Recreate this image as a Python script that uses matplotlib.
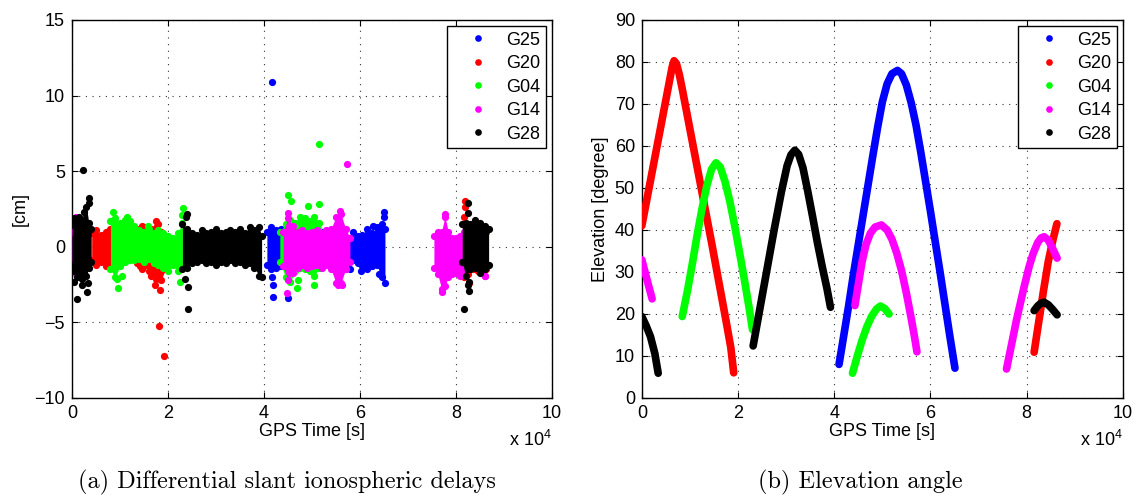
import matplotlib
matplotlib.use("Agg")
import matplotlib.pyplot as plt
from matplotlib.lines import Line2D

plt.rcParams['font.family'] = ['Liberation Sans', 'DejaVu Sans']
plt.rcParams['mathtext.default'] = 'regular'

sats = ["G25", "G20", "G04", "G14", "G28"]
colors = {"G25": "#0000ff", "G20": "#ff0000", "G04": "#00ff00",
          "G14": "#ff00ff", "G28": "#000000"}

# ---- (a) differential slant delays: dense bands (time [s], low/high edge [cm]) ----
g25_t = [40600, 41500, 42500, 43500, 44500, 46000, 48000, 50000, 52000, 54000, 55500,
         56500, 57500, 58500, 59500, 60500, 61500, 62500, 63500, 64500, 65200]
g25_hi = [1.0, 1.3, 1.1, 1.2, 1.0, 1.0, 1.0, 0.9, 1.0, 1.0, 1.1,
          0.9, 0.6, 1.0, 0.7, 0.8, 1.2, 0.9, 1.3, 1.5, 1.2]
g25_lo = [-1.2, -1.5, -1.4, -1.3, -1.2, -1.3, -1.2, -1.3, -1.2, -1.3, -1.1,
          -1.2, -1.0, -0.9, -1.1, -1.3, -1.5, -1.3, -1.2, -2.0, -2.4]
g25_out_t = [41600, 41900, 41900, 45070, 41600, 65070, 65000, 58000, 60200, 62800, 64000]
g25_out_v = [10.88, -3.3, -2.55, -3.4, -2.0, 2.3, 2.0, -1.5, -1.6, 1.4, -1.8]

g20_a_t = [4100, 5000, 6000, 7000, 8000, 8300]
g20_a_hi = [0.9, 1.1, 0.8, 1.0, 1.2, 0.8]
g20_a_lo = [-0.9, -1.2, -1.0, -1.3, -1.0, -0.8]
g20_b_t = [12500, 13500, 14500, 15500, 16500, 17500, 18500, 19500]
g20_b_hi = [0.5, 1.2, 1.4, 1.3, 1.2, 1.7, 1.0, 0.5]
g20_b_lo = [-0.6, -1.1, -1.5, -1.2, -1.9, -2.1, -2.2, -1.5]
g20_c_t = [81600, 82500, 83500, 84500, 85500, 86200]
g20_c_hi = [2.0, 1.3, 1.2, 1.3, 1.2, 1.0]
g20_c_lo = [-2.0, -1.8, -1.5, -1.6, -1.7, -1.5]
g20_out_t = [17300, 18300, 18200, 19240, 16000, 18000, 14200, 81900, 81800, 82800]
g20_out_v = [-2.5, -2.85, -5.24, -7.22, -1.6, 1.5, -1.3, 3.05, 2.6, -2.4]

g04_a_t = [8000, 9000, 10000, 11000, 12000, 13000, 14000, 15000, 16000, 17000,
           18000, 19000, 20000, 21000, 22000, 23000]
g04_a_hi = [1.7, 1.9, 1.6, 1.8, 1.7, 1.4, 1.1, 1.0, 1.2, 0.9, 1.1, 0.9, 0.7, 0.6, 0.9, 1.6]
g04_a_lo = [-1.5, -2.0, -1.3, -1.0, -0.9, -0.9, -0.8, -1.0, -0.8, -1.1,
            -1.2, -1.4, -1.3, -1.2, -1.6, -1.4]
g04_b_t = [43300, 44500, 45500, 46500, 47500, 48500, 49500, 50500, 51500, 52500]
g04_b_hi = [1.0, 1.5, 1.8, 1.6, 2.0, 1.9, 1.7, 2.0, 1.6, 0.8]
g04_b_lo = [-1.0, -2.0, -2.3, -1.6, -1.4, -1.5, -1.6, -1.9, -1.4, -1.0]
g04_out_t = [8600, 9650, 9300, 10400, 23200, 23000, 22500, 20000, 11500, 15800,
             45070, 45600, 49100, 51500, 50500, 46800, 51450, 47000]
g04_out_v = [2.3, -2.7, -2.1, -1.9, 2.54, 2.1, -2.3, -1.6, 2.0, 1.4,
             3.43, 3.0, 2.7, 2.8, -2.5, -2.75, 6.78, -2.2]

g14_a_t = [0, 800, 1600, 2300]
g14_a_hi = [1.0, 2.0, 1.5, 1.0]
g14_a_lo = [-1.5, -1.8, -2.0, -1.8]
g14_b_t = [44000, 45000, 46000, 47000, 48000, 49000, 50000, 51000, 52000, 53000,
           54000, 55000, 56000, 57000, 57900]
g14_b_hi = [1.0, 1.9, 1.4, 1.0, 1.1, 0.9, 1.0, 1.1, 0.9, 1.1, 1.2, 2.0, 2.2, 1.2, 0.6]
g14_b_lo = [-1.3, -2.2, -1.7, -1.4, -1.2, -1.4, -1.3, -1.2, -1.4, -1.2,
            -1.5, -2.4, -2.4, -1.5, -1.0]
g14_c_t = [75400, 76200, 77000, 77700, 78400, 79200, 80000, 80800, 81600, 83000, 84500, 86000]
g14_c_hi = [0.7, 1.0, 1.0, 2.0, 1.0, 0.6, 0.6, 0.7, 1.0, 1.0, 1.0, 1.0]
g14_c_lo = [-1.4, -1.8, -2.8, -2.6, -2.0, -1.8, -1.7, -1.9, -1.6, -1.3, -1.3, -1.9]
g14_out_t = [45070, 44700, 55800, 55500, 57200, 56200, 77700, 77000, 86000]
g14_out_v = [2.26, -3.08, 2.4, -2.5, 5.48, -2.5, 2.2, -2.97, -1.9]

g28_a_t = [0, 500, 1000, 1500, 2000, 2500, 3000, 3500, 4000]
g28_a_hi = [1.5, 1.9, 1.6, 2.0, 1.8, 2.3, 2.6, 1.6, 1.2]
g28_a_lo = [-1.2, -1.6, -2.0, -1.8, -2.1, -1.7, -1.9, -1.4, -1.0]
g28_b_t = [23000, 24000, 25000, 26000, 27000, 28000, 29000, 30000, 31000, 32000,
           33000, 34000, 35000, 36000, 37000, 38000, 39000, 39500]
g28_b_hi = [1.5, 1.2, 0.9, 0.8, 1.1, 0.9, 1.0, 1.2, 0.9, 1.0,
            1.1, 1.0, 1.2, 0.9, 1.3, 1.1, 1.3, 0.7]
g28_b_lo = [-1.5, -1.4, -1.1, -1.0, -0.9, -1.1, -1.0, -1.2, -1.0, -1.1,
            -0.9, -1.1, -1.0, -1.2, -1.1, -1.4, -1.9, -2.0]
g28_c_t = [81300, 82000, 83000, 84000, 85000, 86000, 86800]
g28_c_hi = [1.5, 1.6, 1.5, 1.8, 1.6, 1.4, 1.2]
g28_c_lo = [-1.0, -1.9, -1.5, -1.4, -1.7, -1.5, -1.2]
g28_out_t = [2350, 1100, 3050, 3300, 3600, 3500, 500, 2000,
             23900, 23700, 24250, 24200, 23600,
             82600, 82400, 82400, 82700, 81700, 82800]
g28_out_v = [5.1, -3.45, -2.97, -2.4, 3.2, 2.9, -2.3, -2.5,
             2.2, 2.0, -2.63, -4.1, -2.1,
             2.92, 2.26, -2.5, -2.9, -4.12, -2.3]

delay_bands = {
    "G25": [(g25_t, g25_lo, g25_hi)],
    "G20": [(g20_a_t, g20_a_lo, g20_a_hi), (g20_b_t, g20_b_lo, g20_b_hi),
            (g20_c_t, g20_c_lo, g20_c_hi)],
    "G04": [(g04_a_t, g04_a_lo, g04_a_hi), (g04_b_t, g04_b_lo, g04_b_hi)],
    "G14": [(g14_a_t, g14_a_lo, g14_a_hi), (g14_b_t, g14_b_lo, g14_b_hi),
            (g14_c_t, g14_c_lo, g14_c_hi)],
    "G28": [(g28_a_t, g28_a_lo, g28_a_hi), (g28_b_t, g28_b_lo, g28_b_hi),
            (g28_c_t, g28_c_lo, g28_c_hi)],
}
delay_outliers = {
    "G25": (g25_out_t, g25_out_v),
    "G20": (g20_out_t, g20_out_v),
    "G04": (g04_out_t, g04_out_v),
    "G14": (g14_out_t, g14_out_v),
    "G28": (g28_out_t, g28_out_v),
}

# ---- (b) elevation arcs: time [s], elevation [deg] ----
el_g25_t = [41000, 42000, 43000, 44000, 45000, 46000, 47000, 48000, 49000, 50000, 51000,
            52000, 53150, 54000, 55000, 56000, 57000, 58000, 59000, 60000, 61000, 62000,
            63000, 64000, 65100]
el_g25 = [8, 15, 22, 29.5, 36.5, 43.5, 50.5, 57.5, 64.3, 70.5, 74.8,
          77.2, 78, 77.2, 74.5, 70.3, 65, 58.5, 51.5, 44.5, 37.2, 30,
          22.5, 15, 7.1]

el_g20_a_t = [0, 1000, 2000, 3000, 4000, 5000, 5800, 6300, 6700, 7200, 7800, 8500,
              9500, 10500, 11500, 12500, 13500, 14500, 15500, 16500, 17500, 18500, 19100]
el_g20_a = [41, 47, 53, 59, 65, 71, 75.8, 78.8, 80.3, 79.6, 77, 73,
            67, 61, 55, 49, 43, 37, 30.8, 24.6, 18.4, 12, 6]
el_g20_b_t = [81560, 82500, 83500, 84500, 85500, 86300]
el_g20_b = [10.9, 18, 25.5, 32.5, 37.8, 41.5]

el_g04_a_t = [8400, 9500, 10500, 11500, 12500, 13500, 14500, 15400, 16300, 17300,
              18300, 19300, 20300, 21300, 22300, 23000]
el_g04_a = [19.4, 25.6, 32, 38.8, 45, 50.5, 54.5, 56, 55, 51.5,
            46.8, 41, 34.7, 28.3, 21.5, 16.3]
el_g04_b_t = [43800, 44800, 45800, 46800, 47800, 48800, 49600, 50500, 51400]
el_g04_b = [5.9, 10, 13.8, 17, 19.5, 21.2, 21.9, 21.3, 20.0]

el_g14_a_t = [0, 1000, 2140]
el_g14_a = [32.9, 28.5, 23.6]
el_g14_b_t = [44300, 45000, 45800, 46600, 47500, 48500, 49800, 51000, 52000, 53000,
              54000, 55000, 56000, 56700, 57200]
el_g14_b = [22, 27, 32.5, 36.5, 39.2, 40.7, 41.2, 40, 37.8, 34.5,
            30.3, 25, 19, 14.5, 11]
el_g14_c_t = [75820, 77000, 77900, 79480, 80500, 81360, 82300, 83000, 83640, 84500,
              85400, 86340]
el_g14_c = [6.9, 13.5, 18.6, 26.5, 31.2, 34.4, 37, 38.1, 38.4, 37.6, 35.6, 33.3]

el_g28_a_t = [0, 900, 1800, 2700, 3400]
el_g28_a = [19.4, 17.2, 14.6, 10.6, 5.9]
el_g28_b_t = [23140, 24500, 26000, 27500, 29000, 30200, 31000, 31810, 32600, 33500,
              34500, 35500, 36500, 37500, 38500, 39220]
el_g28_b = [12.4, 21, 30.5, 40, 49, 55.3, 57.9, 59, 58, 54.8,
            49.2, 43.2, 37, 31.3, 26, 21.6]
el_g28_c_t = [81560, 82300, 83000, 83640, 84500, 85400, 86340]
el_g28_c = [20.8, 21.9, 22.6, 22.8, 22.2, 21.1, 19.8]

elev_arcs = {
    "G25": [(el_g25_t, el_g25)],
    "G20": [(el_g20_a_t, el_g20_a), (el_g20_b_t, el_g20_b)],
    "G04": [(el_g04_a_t, el_g04_a), (el_g04_b_t, el_g04_b)],
    "G14": [(el_g14_a_t, el_g14_a), (el_g14_b_t, el_g14_b), (el_g14_c_t, el_g14_c)],
    "G28": [(el_g28_a_t, el_g28_a), (el_g28_b_t, el_g28_b), (el_g28_c_t, el_g28_c)],
}

FS = 13
MS = 5.2


def style_axes(ax, ylim, yticks, ylabel):
    ax.set_xlim(0, 100000)
    ax.set_ylim(*ylim)
    ax.set_xticks([0, 20000, 40000, 60000, 80000, 100000])
    ax.set_xticklabels(["0", "2", "4", "6", "8", "10"])
    ax.set_yticks(yticks)
    ax.tick_params(direction="in", top=True, right=True, length=4, width=0.8,
                   labelsize=FS, pad=5)
    ax.grid(True, linestyle=(0, (1, 5)), color="#333333", linewidth=0.8)
    ax.set_axisbelow(True)
    for sp in ax.spines.values():
        sp.set_linewidth(1.0)
    ax.set_xlabel("GPS Time [s]", fontsize=FS, labelpad=1)
    ax.set_ylabel(ylabel, fontsize=FS)
    ax.text(1.0, -0.085, r"x 10$^{4}$", transform=ax.transAxes, ha="right", va="top",
            fontsize=FS)
    handles = [Line2D([], [], marker="o", ls="", ms=4.8, mew=0, color=colors[s])
               for s in sats]
    leg = ax.legend(handles, sats, loc="upper right", fontsize=FS, fancybox=False,
                    framealpha=1, edgecolor="black", borderaxespad=0.35,
                    handlelength=2.75, handletextpad=0.2, labelspacing=0.36,
                    borderpad=0.3)
    leg.get_frame().set_linewidth(1.0)


fig = plt.figure(figsize=(11.36, 5), dpi=100)
ax1 = fig.add_axes([0.0634, 0.204, 0.4225, 0.756])
ax2 = fig.add_axes([0.565, 0.204, 0.4234, 0.756])

for z, s in enumerate(sats):
    c = colors[s]
    for t, lo, hi in delay_bands[s]:
        ax1.fill_between(t, lo, hi, color=c, lw=0, zorder=2 + z)
        ax1.plot(t, lo, "o", ms=MS, mew=0, color=c, zorder=2 + z)
        ax1.plot(t, hi, "o", ms=MS, mew=0, color=c, zorder=2 + z)
    ot, ov = delay_outliers[s]
    ax1.plot(ot, ov, "o", ms=MS, mew=0, color=c, zorder=2 + z)

    for t, e in elev_arcs[s]:
        ax2.plot(t, e, "-", lw=5.5, color=c, solid_capstyle="round",
                 solid_joinstyle="round", zorder=2 + z)

style_axes(ax1, (-10, 15), [-10, -5, 0, 5, 10, 15], "[cm]")
style_axes(ax2, (0, 90), list(range(0, 91, 10)), "Elevation [degree]")

fig.text(287 / 1136, 1 - 482 / 500, "(a) Differential slant ionospheric delays",
         ha="center", va="center", family="cmr10", fontsize=17.5)
fig.text(860 / 1136, 1 - 482 / 500, "(b) Elevation angle",
         ha="center", va="center", family="cmr10", fontsize=17.5)

fig.savefig("out.png", dpi=100)
